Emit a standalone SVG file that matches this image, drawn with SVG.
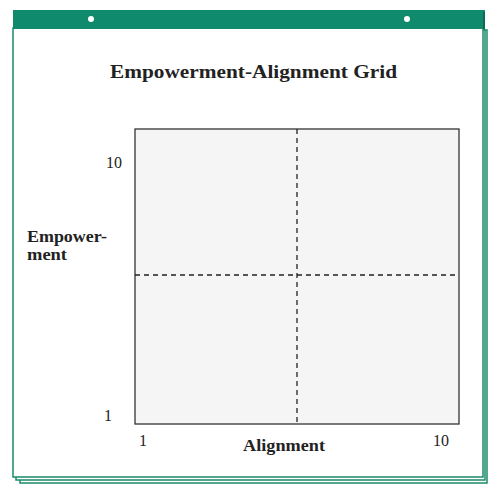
<svg xmlns="http://www.w3.org/2000/svg" width="489" height="489" viewBox="0 0 489 489">
<style>
.pg{fill:#ffffff;stroke:#1a8a68;stroke-width:1.5}
.t{font-family:"Liberation Serif",serif;fill:#222}
.b{font-weight:bold}
.dash{stroke:#222;stroke-width:1.3;stroke-dasharray:5,4;fill:none}
</style>
<rect width="489" height="489" fill="#ffffff"/>
<g id="pages">
<rect class="pg" x="20" y="30" width="467" height="453"/>
<rect class="pg" x="16" y="30" width="469" height="450"/>
<rect class="pg" x="13" y="28" width="470" height="449"/>
<rect x="13" y="10" width="472" height="19" fill="#0f8a6c"/>
<rect x="483" y="12" width="2" height="17" fill="#0a6b52"/>
<circle cx="91" cy="19" r="3" fill="#ffffff"/>
<circle cx="407" cy="19" r="3" fill="#ffffff"/>
</g>
<text class="t b" x="110" y="78" font-size="19" textLength="287" lengthAdjust="spacingAndGlyphs">Empowerment-Alignment Grid</text>
<g id="grid">
<rect x="135" y="129" width="324" height="295" fill="#f5f5f5" stroke="#333" stroke-width="1.3"/>
</g>
<g id="connectors">
<line class="dash" x1="297" y1="129" x2="297" y2="424"/>
<line class="dash" x1="135" y1="275" x2="459" y2="275"/>
</g>
<g id="labels">
<text class="t" x="122" y="168" font-size="16" text-anchor="end">10</text>
<text class="t" x="112" y="421" font-size="16" text-anchor="end">1</text>
<text class="t" x="143" y="446" font-size="16" text-anchor="middle">1</text>
<text class="t" x="441" y="446" font-size="16" text-anchor="middle">10</text>
<text class="t b" x="243" y="451" font-size="16" textLength="82" lengthAdjust="spacingAndGlyphs">Alignment</text>
<text class="t b" x="27" y="242" font-size="16" textLength="80" lengthAdjust="spacingAndGlyphs">Empower-</text>
<text class="t b" x="27" y="260" font-size="16" textLength="40" lengthAdjust="spacingAndGlyphs">ment</text>
</g>
</svg>
